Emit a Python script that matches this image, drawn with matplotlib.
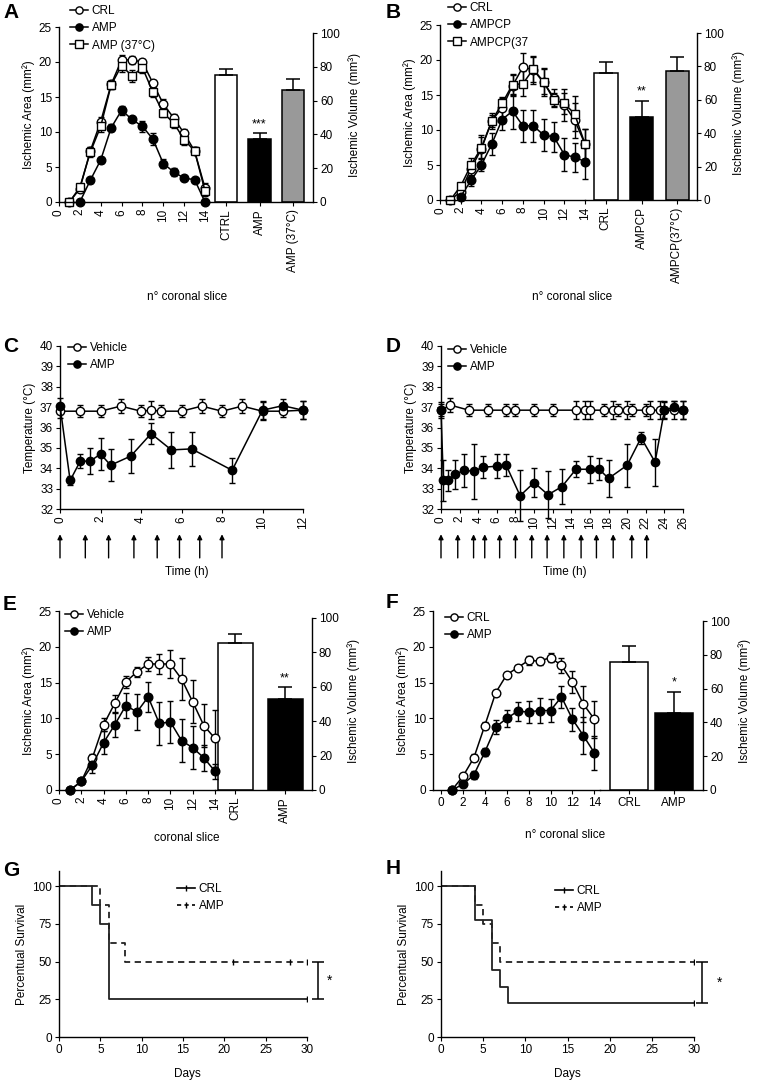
import matplotlib
matplotlib.use('Agg')
import matplotlib.pyplot as plt
from matplotlib.lines import Line2D

plt.rcParams['font.family'] = ['Liberation Sans', 'DejaVu Sans']
plt.rcParams['font.size'] = 8.5
plt.rcParams['axes.linewidth'] = 1.0
plt.rcParams['xtick.major.size'] = 3
plt.rcParams['ytick.major.size'] = 3
plt.rcParams['xtick.major.pad'] = 2
plt.rcParams['ytick.major.pad'] = 2

W, H = 772, 1083

# ---- A: ischemic area per slice + volume
a_x = list(range(1, 15))
a_crl = [0, 1.9, 7.3, 11.5, 16.8, 20.3, 20.3, 20.0, 17.0, 14.0, 12.0, 9.8, 7.3, 2.0]
a_crl_err = [0, 0.3, 0.5, 0.6, 0.6, 0.7, 0.6, 0.5, 0.5, 0.7, 0.6, 0.6, 0.5, 0.7]
a_amp_x = list(range(2, 15))
a_amp = [0, 3.1, 6.0, 10.6, 13.1, 11.8, 10.8, 9.0, 5.5, 4.3, 3.4, 3.2, 0]
a_amp_err = [0, 0.4, 0.4, 0.5, 0.6, 0.4, 0.8, 0.8, 0.6, 0.6, 0.3, 0.3, 0.1]
a_a37 = [0, 2.1, 7.1, 10.8, 16.7, 19.5, 18.0, 19.2, 15.7, 12.7, 11.3, 8.9, 7.3, 1.6]
a_a37_err = [0, 0.5, 0.7, 0.8, 0.6, 0.9, 0.9, 0.7, 0.7, 0.6, 0.7, 0.8, 0.5, 0.7]
a_bar_labels = ['CTRL', 'AMP', 'AMP (37°C)']
a_bar_vals = [75.0, 37.0, 66.3]
a_bar_err = [3.6, 3.6, 6.5]

# ---- B
b_x = list(range(1, 15))
b_crl = [0, 1.2, 4.5, 7.3, 11.3, 13.2, 16.3, 19.0, 18.6, 16.8, 14.6, 13.6, 11.4, 8.0]
b_crl_err = [0, 0.5, 1.0, 2.0, 1.2, 1.5, 1.5, 2.0, 2.0, 2.0, 1.2, 2.3, 2.5, 2.2]
b_ampcp_x = list(range(2, 15))
b_ampcp = [0.5, 2.8, 5.0, 8.0, 11.5, 12.7, 10.6, 10.6, 9.3, 9.0, 6.5, 6.1, 5.5]
b_ampcp_err = [0.5, 0.8, 0.8, 1.6, 1.5, 2.5, 2.3, 2.3, 2.3, 2.1, 2.3, 2.1, 2.5]
b_c37 = [0, 2.0, 5.0, 7.5, 11.3, 13.8, 16.5, 16.6, 18.7, 16.9, 14.3, 13.8, 12.3, 8.0]
b_c37_err = [0, 0.5, 1.0, 1.5, 0.8, 0.8, 1.5, 1.8, 1.8, 1.8, 1.0, 1.5, 2.5, 2.2]
b_bar_labels = ['CRL', 'AMPCP', 'AMPCP(37°C)']
b_bar_vals = [76.0, 49.5, 77.2]
b_bar_err = [6.4, 10.0, 8.2]

# ---- C: temperature 12 h
c_veh_t = [0, 1, 2, 3, 4, 4.5, 5, 6, 7, 8, 9, 10, 11, 12]
c_veh = [36.8, 36.8, 36.8, 37.05, 36.8, 36.85, 36.8, 36.8, 37.05, 36.8, 37.05, 36.8, 36.8, 36.85]
c_veh_err = [0.35, 0.3, 0.3, 0.35, 0.3, 0.45, 0.3, 0.3, 0.35, 0.3, 0.35, 0.45, 0.3, 0.45]
c_amp_t = [0, 0.5, 1, 1.5, 2, 2.5, 3.5, 4.5, 5.5, 6.5, 8.5, 10, 11, 12]
c_amp = [37.07, 33.4, 34.35, 34.35, 34.7, 34.15, 34.6, 35.7, 34.9, 34.95, 33.9, 36.85, 37.07, 36.85]
c_amp_err = [0.4, 0.2, 0.35, 0.65, 0.8, 0.8, 0.85, 0.5, 0.9, 0.85, 0.6, 0.45, 0.35, 0.45]
c_arrows = [0, 1.25, 2.4, 3.65, 4.8, 5.9, 6.9, 8.0]

# ---- D: temperature 26 h
d_veh_t = [0, 1, 3, 5, 7, 8, 10, 12, 14.5, 15.5, 16, 17.5, 18.5, 19, 20, 20.5, 22, 22.5, 23.5, 24, 25, 26]
d_veh = [36.85, 37.1, 36.85, 36.85, 36.85, 36.85, 36.85, 36.85, 36.85, 36.85, 36.85, 36.85,
         36.85, 36.85, 36.85, 36.85, 36.85, 36.85, 36.85, 36.85, 36.85, 36.85]
d_veh_err = [0.4, 0.35, 0.3, 0.3, 0.3, 0.3, 0.3, 0.3, 0.45, 0.45, 0.45, 0.3,
             0.45, 0.3, 0.45, 0.3, 0.3, 0.45, 0.45, 0.45, 0.45, 0.45]
d_amp_t = [0, 0.25, 0.75, 1.5, 2.5, 3.5, 4.5, 6, 7, 8.5, 10, 11.5, 13, 14.5, 16, 17, 18, 20, 21.5, 23, 24, 25, 26]
d_amp = [36.85, 33.4, 33.4, 33.7, 33.9, 33.85, 34.05, 34.1, 34.15, 32.65, 33.3, 32.7, 33.1,
         33.95, 33.95, 33.95, 33.5, 34.15, 35.5, 34.3, 36.85, 37.0, 36.85]
d_amp_err = [0.3, 1.0, 0.5, 0.7, 0.8, 1.35, 0.55, 0.6, 0.55, 1.25, 0.7, 1.15, 0.85,
             0.4, 0.65, 0.55, 0.9, 1.05, 0.3, 1.15, 0.4, 0.3, 0.45]
d_arrows = [0, 1.8, 3.5, 4.7, 6.3, 8.0, 9.75, 11.4, 13.2, 15.05, 16.7, 18.5, 20.5, 22.1]

# ---- E
e_x = list(range(1, 15))
e_veh = [0, 1.2, 4.5, 9.1, 12.1, 15.1, 16.5, 17.6, 17.6, 17.6, 15.5, 12.3, 9.0, 7.2]
e_veh_err = [0, 0.2, 0.5, 0.9, 1.2, 0.8, 0.7, 1.0, 1.4, 1.9, 2.9, 3.0, 3.0, 4.0]
e_amp = [0, 1.2, 3.5, 6.6, 9.1, 11.8, 10.9, 13.0, 9.3, 9.5, 6.9, 5.9, 4.5, 2.6]
e_amp_err = [0, 0.2, 1.1, 1.6, 1.7, 1.8, 2.5, 2.1, 3.0, 3.0, 3.0, 3.0, 1.8, 1.0]
e_bar_labels = ['CRL', 'AMP']
e_bar_vals = [85.4, 53.0]
e_bar_err = [5.2, 6.6]

# ---- F
f_x = list(range(1, 15))
f_crl = [0, 1.9, 4.5, 9.0, 13.6, 16.1, 17.1, 18.1, 18.0, 18.5, 17.4, 15.1, 12.0, 9.9]
f_crl_err = [0, 0.2, 0.5, 0.5, 0.4, 0.3, 0.4, 0.6, 0.5, 0.6, 1.0, 1.5, 2.5, 2.6]
f_amp = [0, 0.8, 2.1, 5.3, 8.8, 10.0, 11.0, 10.9, 11.1, 11.1, 13.0, 9.9, 7.6, 5.2]
f_amp_err = [0, 0.2, 0.6, 0.6, 1.0, 1.2, 1.3, 1.6, 1.8, 1.6, 1.5, 1.6, 2.6, 2.4]
f_bar_labels = ['CRL', 'AMP']
f_bar_vals = [75.9, 45.4]
f_bar_err = [9.3, 12.8]

# ---- G, H: survival
g_crl_days = [0, 4, 5, 6, 30]
g_crl_surv = [100, 87.5, 75, 25, 25]
g_amp_days = [0, 5, 6, 8, 30]
g_amp_surv = [100, 87.5, 62.5, 50, 50]
g_amp_cens = [21, 28, 30]
h_crl_days = [0, 4, 6, 7, 8, 30]
h_crl_surv = [100, 77.8, 44.4, 33.3, 22.2, 22.2]
h_amp_days = [0, 4, 5, 6, 7, 30]
h_amp_surv = [100, 87.5, 75, 62.5, 50, 50]
h_amp_cens = [30]

fig = plt.figure(figsize=(W / 100, H / 100), dpi=100)


def box(x0, y0, x1, y1):
    return [x0 / W, 1 - y1 / H, (x1 - x0) / W, (y1 - y0) / H]


def ftext(x, y, s, **kw):
    fig.text(x / W, 1 - y / H, s, **kw)


OPEN = dict(marker='o', mfc='white')
FILL = dict(marker='o', mfc='black')
SQR = dict(marker='s', mfc='white')


def series(ax, x, y, e, style, ms=6.2):
    cont = ax.errorbar(x, y, yerr=e, color='k', lw=1.1, ms=ms, mec='k', mew=1.0,
                       elinewidth=1.0, capsize=2.5, capthick=1.0, **style)
    for art in cont.get_children():
        art.set_clip_on(False)


def handle(style, ms=5.2):
    return Line2D([], [], color='k', lw=1.1, ms=ms, mec='k', mew=1.0, **style)


def add_legend(ax, x, y, handles, labels):
    ax.legend(handles, labels, loc='upper left', bbox_to_anchor=(x / W, 1 - y / H),
              bbox_transform=fig.transFigure, frameon=False, borderpad=0,
              handlelength=1.5, handletextpad=0.35, labelspacing=0.45,
              fontsize=8.5, borderaxespad=0)


def area_panel(x0, xline, xbar, ytop, ybot, y100, xlim, xspine0, bar_pos, bar_lims,
               bar_vals, bar_err, bar_labels, bar_colors, bar_w, rotate, stars):
    ax = fig.add_axes(box(x0, ytop, xline, ybot))
    ax.set_xlim(*xlim)
    ax.set_ylim(0, 25)
    ax.set_yticks([0, 5, 10, 15, 20, 25])
    ax.set_xticks(range(0, 15, 2))
    ax.tick_params(axis='x', labelrotation=90 if rotate else 0)
    ax.spines['top'].set_visible(False)
    ax.spines['right'].set_visible(False)
    ax.spines['bottom'].set_bounds(xspine0, xlim[1])
    ax.set_ylabel('Ischemic Area (mm²)', labelpad=3)
    axb = fig.add_axes(box(xline, ytop, xbar, ybot))
    axb.patch.set_visible(False)
    axb.bar(bar_pos, bar_vals, width=bar_w, color=bar_colors, edgecolor='k', lw=1.1,
            yerr=[[0] * len(bar_vals), bar_err], capsize=5,
            error_kw=dict(elinewidth=1.1, capthick=1.1))
    top = 100 * (ybot - ytop) / (ybot - y100)
    axb.set_ylim(0, top)
    axb.set_xlim(*bar_lims)
    axb.set_xticks(bar_pos)
    axb.set_xticklabels(bar_labels, rotation=90 if rotate else 0)
    axb.spines['top'].set_visible(False)
    axb.spines['left'].set_visible(False)
    axb.spines['right'].set_bounds(0, 100)
    axb.yaxis.tick_right()
    axb.yaxis.set_label_position('right')
    axb.set_yticks([0, 20, 40, 60, 80, 100])
    axb.set_ylabel('Ischemic Volume (mm³)', rotation=90, labelpad=6)
    for p, v, e, s in zip(bar_pos, bar_vals, bar_err, stars):
        if s:
            axb.text(p, v + e + 2, s, ha='center', va='bottom', fontsize=9)
    # line axes drawn above the bar axes so edge markers stay visible
    ax.set_zorder(axb.get_zorder() + 1)
    ax.patch.set_visible(False)
    return ax, axb


# ---------- Panel A
axA, axAb = area_panel(59, 205, 313, 27, 202, 33, (0, 14), 0, [1, 2, 3], (0.37, 3.6),
                       a_bar_vals, a_bar_err, a_bar_labels, ['white', 'black', '#999999'],
                       0.66, True, ['', '***', ''])
series(axA, a_x, a_crl, a_crl_err, OPEN)
series(axA, a_amp_x, a_amp, a_amp_err, FILL)
series(axA, a_x, a_a37, a_a37_err, SQR, ms=5.8)
add_legend(axA, 70, 5, [handle(OPEN), handle(FILL), handle(SQR)],
           ['CRL', 'AMP', 'AMP (37°C)'])
ftext(187, 297, 'n° coronal slice', ha='center', va='center')

# ---------- Panel B
axB, axBb = area_panel(440, 585, 697, 25, 200, 33, (0, 14), 0, [1, 2, 3], (0.42, 3.55),
                       b_bar_vals, b_bar_err, b_bar_labels, ['white', 'black', '#999999'],
                       0.66, True, ['', '**', ''])
series(axB, b_x, b_crl, b_crl_err, OPEN)
series(axB, b_ampcp_x, b_ampcp, b_ampcp_err, FILL)
series(axB, b_x, b_c37, b_c37_err, SQR, ms=5.8)
add_legend(axB, 448, 2, [handle(OPEN), handle(FILL), handle(SQR)],
           ['CRL', 'AMPCP', 'AMPCP(37'])
ftext(572, 297, 'n° coronal slice', ha='center', va='center')

# ---------- Panel E
axE, axEb = area_panel(59, 215, 312, 611, 790, 618, (0, 14), 0, [1, 2], (0.6, 2.54),
                       e_bar_vals, e_bar_err, e_bar_labels, ['white', 'black'],
                       0.7, True, ['', '**'])
series(axE, e_x, e_veh, e_veh_err, OPEN)
series(axE, e_x, e_amp, e_amp_err, FILL)
add_legend(axE, 65, 609, [handle(OPEN), handle(FILL)], ['Vehicle', 'AMP'])
ftext(187, 838, 'coronal slice', ha='center', va='center')

# ---------- Panel F
axF, axFb = area_panel(433, 600, 703, 611, 790, 621, (-0.73, 14.52), -0.73, [1, 2],
                       (0.356, 2.64), f_bar_vals, f_bar_err, f_bar_labels,
                       ['white', 'black'], 0.84, False, ['', '*'])
series(axF, f_x, f_crl, f_crl_err, OPEN)
series(axF, f_x, f_amp, f_amp_err, FILL)
add_legend(axF, 445, 612, [handle(OPEN), handle(FILL)], ['CRL', 'AMP'])
ftext(565, 835, 'n° coronal slice', ha='center', va='center')


# ---------- Temperature panels
def temp_panel(x0, x1, xmax, veh, amp, arrows, xlab_x):
    ax = fig.add_axes(box(x0, 346, x1, 509))
    series(ax, veh[0], veh[1], veh[2], OPEN, ms=6)
    series(ax, amp[0], amp[1], amp[2], FILL, ms=6)
    ax.set_xlim(0, xmax)
    ax.set_ylim(32, 40)
    ax.set_yticks(range(32, 41))
    ax.set_xticks(range(0, xmax + 1, 2))
    ax.tick_params(axis='x', labelrotation=90)
    ax.spines['top'].set_visible(False)
    ax.spines['right'].set_visible(False)
    ax.set_ylabel('Temperature (°C)', labelpad=3)
    tr = ax.get_xaxis_transform()
    for t in arrows:
        ax.annotate('', xy=(t, -0.155), xytext=(t, -0.3), xycoords=tr, textcoords=tr,
                    arrowprops=dict(arrowstyle='-|>', lw=1.0, color='k',
                                    mutation_scale=7, shrinkA=0, shrinkB=0))
    ftext(xlab_x, 572, 'Time (h)', ha='center', va='center')
    return ax


axC = temp_panel(60, 303, 12, (c_veh_t, c_veh, c_veh_err), (c_amp_t, c_amp, c_amp_err),
                 c_arrows, 187)
add_legend(axC, 68, 342, [handle(OPEN), handle(FILL)], ['Vehicle', 'AMP'])
axD = temp_panel(441, 683, 26, (d_veh_t, d_veh, d_veh_err), (d_amp_t, d_amp, d_amp_err),
                 d_arrows, 565)
add_legend(axD, 448, 344, [handle(OPEN), handle(FILL)], ['Vehicle', 'AMP'])


# ---------- Survival panels
def surv_panel(x0, x1, crl, amp, amp_cens, crl_end, brk_x, star_x, leg_xy, lab_x):
    ax = fig.add_axes(box(x0, 871, x1, 1037))
    ax.step(crl[0], crl[1], where='post', color='#222222', lw=1.3)
    ax.step(amp[0], amp[1], where='post', color='#222222', lw=1.3, ls=(0, (3.5, 2.5)))
    ax.plot([30], [crl_end], ls='none', marker='|', ms=4, mew=1.0, color='k')
    ax.plot(amp_cens, [amp[1][-1]] * len(amp_cens), ls='none', marker='|', ms=4,
            mew=1.0, color='k')
    ax.set_xlim(0, 30)
    ax.set_ylim(0, 110)
    ax.set_xticks(range(0, 31, 5))
    ax.set_yticks([0, 25, 50, 75, 100])
    ax.spines['top'].set_visible(False)
    ax.spines['right'].set_visible(False)
    ax.set_ylabel('Percentual Survival', labelpad=3)
    ax.errorbar([brk_x], [(amp[1][-1] + crl_end) / 2], yerr=[(amp[1][-1] - crl_end) / 2],
                color='k', lw=1.1, capsize=4, capthick=1.1, clip_on=False)
    ax.text(star_x, (amp[1][-1] + crl_end) / 2, '*', ha='center', va='center',
            fontsize=10, clip_on=False)
    handles = [Line2D([], [], color='k', lw=1.2, marker='|', ms=4),
               Line2D([], [], color='k', lw=1.2, ls=(0, (2.5, 2)), marker='|', ms=4)]
    add_legend(ax, leg_xy[0], leg_xy[1], handles, ['CRL', 'AMP'])
    ftext(lab_x, 1074, 'Days', ha='center', va='center')
    return ax


axG = surv_panel(59, 307, (g_crl_days, g_crl_surv), (g_amp_days, g_amp_surv), g_amp_cens,
                 25, 31.3, 32.7, (177, 883), 187)
axH = surv_panel(441, 694, (h_crl_days, h_crl_surv), (h_amp_days, h_amp_surv), h_amp_cens,
                 22.2, 31.0, 33.0, (555, 885), 567)

# ---------- Panel letters
for s, x, y in [('A', 3, 12), ('B', 386, 12), ('C', 3, 346), ('D', 386, 346),
                ('E', 3, 605), ('F', 386, 603), ('G', 3, 870), ('H', 386, 868)]:
    ftext(x, y, s, fontsize=15, fontweight='bold', ha='left', va='center')

fig.savefig('out.png', dpi=100)
